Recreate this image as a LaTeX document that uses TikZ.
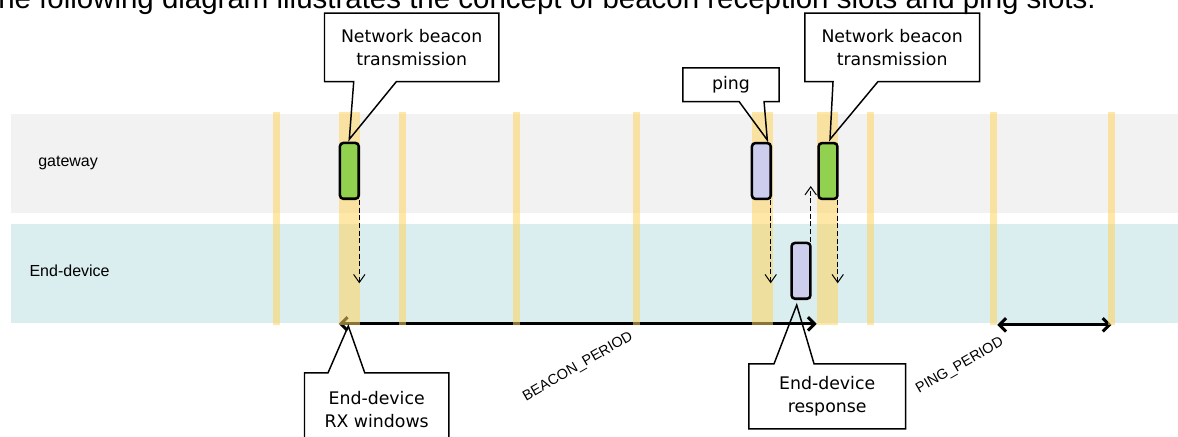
\documentclass[tikz,border=0pt]{standalone}
\usepackage{fontspec}
\setmainfont{Liberation Sans}
\newfontfamily\calloutfont{DejaVu Sans}
\usetikzlibrary{arrows.meta,calc}

\definecolor{gwband}{HTML}{F2F2F2}
\definecolor{edband}{HTML}{DAEDEF}
\definecolor{slotcol}{HTML}{FFD45F}
\definecolor{beacongreen}{HTML}{92D050}
\definecolor{pinglilac}{HTML}{CDCEEE}

\begin{document}
\begin{tikzpicture}[x=0.75pt,y=-0.75pt,
  slotn/.style={fill=slotcol,fill opacity=0.55,draw=none,inner sep=0pt,
    minimum width=5.25pt,minimum height=159.4pt},
  slotw/.style={slotn,minimum width=15.75pt},
  msg/.style={draw=black,line width=1.9pt,rounded corners=2.5pt,inner sep=0pt,
    minimum width=14.1pt,minimum height=41.85pt},
  dasharrow/.style={line width=0.75pt,dash pattern=on 3.75pt off 2pt,
    -{Straight Barb[length=6pt,width=8.5pt]}},
  period/.style={line width=2.25pt,
    {Straight Barb[length=5pt,width=10pt]}-{Straight Barb[length=5pt,width=10pt]}},
  periodlabel/.style={inner sep=0pt,rotate=30,font=\fontsize{10.8}{13}\selectfont},
  lanelabel/.style={inner sep=0pt,anchor=base west,font=\fontsize{12}{14}\selectfont},
  callbox/.style={draw=none,inner sep=0pt,align=center,
    font=\calloutfont\fontsize{13}{17.25}\selectfont},
  callline/.style={line width=1.1pt,line join=miter}]

\useasboundingbox (0,0) rectangle (1178,436);

% heading line
\node[inner sep=0pt,anchor=base west,font=\fontsize{22.1}{26}\selectfont] (head) at (-2,8.5)
  {he following diagram illustrates the concept of beacon reception slots and ping slots.};

% lanes
\fill[gwband] (10.7,114) rectangle (1178,213);
\fill[edband] (10.7,224) rectangle (1178,323);
\node[lanelabel] (gwlabel) at (38,166) {gateway};
\node[lanelabel] (edlabel) at (29.3,276) {End-device};

% slot bars (positions only, the fill is drawn after the period arrows)
\path (276.5,218.25) coordinate (ct1) (402.5,218.25) coordinate (ct2)
      (516.5,218.25) coordinate (ct3) (636,218.25) coordinate (ct4)
      (870,218.25) coordinate (ct5) (993.5,218.25) coordinate (ct6)
      (1111.5,218.25) coordinate (ct7)
      (349.5,218.25) coordinate (cw1) (762.5,218.25) coordinate (cw2)
      (827.5,218.25) coordinate (cw3);
\path node[slotn,fill opacity=0] (t1) at (ct1) {} node[slotn,fill opacity=0] (t6) at (ct6) {}
      node[slotn,fill opacity=0] (t7) at (ct7) {}
      node[slotw,fill opacity=0] (w1) at (cw1) {} node[slotw,fill opacity=0] (w3) at (cw3) {};

% periods
\draw[period] ([yshift=0.75pt]w1.south west) -- ([yshift=0.75pt]w3.south west);
\draw[period] (t6.south east) -- (t7.south);
\node[periodlabel] (bplabel) at (578,367) {BEACON\_PERIOD};
\node[periodlabel] (pplabel) at (960,366) {PING\_PERIOD};

% slot bars
\foreach \c in {ct1,ct2,ct3,ct4,ct5,ct6,ct7} \node[slotn] at (\c) {};
\foreach \c in {cw1,cw2,cw3} \node[slotw] at (\c) {};

% frames
\node[msg,fill=beacongreen] (g1) at (349.35,170.85) {};
\node[msg,fill=pinglilac] (p1) at (761.35,171) {};
\node[msg,fill=beacongreen] (g2) at (828,171) {};
\node[msg,fill=pinglilac] (r1) at (801,270.85) {};

% reception / transmission arrows
\coordinate (d1) at (359.3,283.3);
\coordinate (d2) at (770.7,283.3);
\coordinate (d3) at (837.7,283.3);
\coordinate (d4) at (810.7,186);
\draw[dasharrow] (g1.south east -| d1) -- (d1);
\draw[dasharrow] (p1.south east -| d2) -- (d2);
\draw[dasharrow] (g2.south east -| d3) -- (d3);
\draw[dasharrow] (r1.north east -| d4) -- (d4);

% callouts
\node[callbox,minimum width=130.35pt,minimum height=50.85pt] (nb1) at (411.65,47.35)
  {Network beacon\\transmission};
\coordinate (nb1tip) at (349.3,139.3);
\draw[callline] (nb1.south west) -- (nb1.north west) -- (nb1.north east) -- (nb1.south east)
  -- ($(nb1.south west)+(71.95,0)$) -- (nb1tip) -- ($(nb1.south west)+(29.25,0)$) -- cycle;

\node[callbox,minimum width=71.9pt,minimum height=24.9pt] (ping) at (731,84.65) {ping};
\coordinate (pingtip) at (767.3,140);
\draw[callline] (ping.south west) -- (ping.north west) -- (ping.north east) -- (ping.south east)
  -- ($(ping.south west)+(81.25,0)$) -- (pingtip) -- ($(ping.south west)+(56.25,0)$) -- cycle;

\node[callbox,minimum width=130.65pt,minimum height=50.85pt] (nb2) at (892.15,47.35)
  {Network beacon\\transmission};
\coordinate (nb2tip) at (830,139.3);
\draw[callline] (nb2.south west) -- (nb2.north west) -- (nb2.north east) -- (nb2.south east)
  -- ($(nb2.south west)+(73.25,0)$) -- (nb2tip) -- ($(nb2.south west)+(28.25,0)$) -- cycle;

\node[callbox,minimum width=107.85pt,minimum height=54pt] (rx) at (376.65,409.05)
  {End-device\\RX windows};
\coordinate (rxtip) at (348.3,326);
\draw[callline] (rx.north west) -- ($(rx.north west)+(23.55,0)$) -- (rxtip)
  -- ($(rx.north west)+(60.25,0)$) -- (rx.north east) -- (rx.south east) -- (rx.south west) -- cycle;

\node[callbox,minimum width=117.15pt,minimum height=48.4pt] (resp) at (827.15,396.3)
  {End-device\\response};
\coordinate (resptip) at (796.7,305);
\draw[callline] (resp.north west) -- ($(resp.north west)+(25.25,0)$) -- (resptip)
  -- ($(resp.north west)+(65.25,0)$) -- (resp.north east) -- (resp.south east) -- (resp.south west) -- cycle;

\end{tikzpicture}
\end{document}
